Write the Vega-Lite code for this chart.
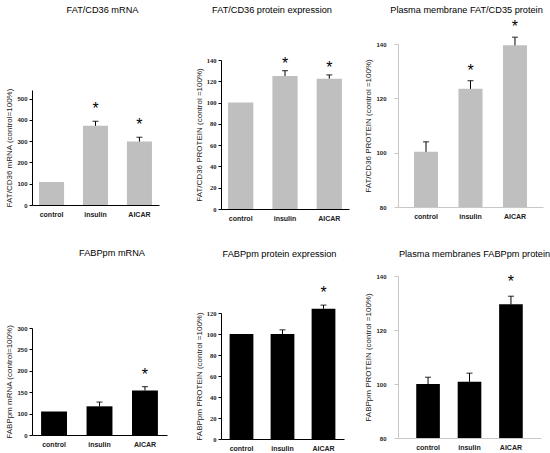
{
  "$schema": "https://vega.github.io/schema/vega-lite/v6.json",
  "padding": {"left": 5, "top": 4, "right": 0, "bottom": 0},
  "background": "white",
  "datasets": {
    "p1": [
      {"group": "control", "mean": 108, "upper": null, "sig": ""},
      {"group": "insulin", "mean": 372, "upper": 393, "sig": "*"},
      {"group": "AICAR", "mean": 298, "upper": 318, "sig": "*"}
    ],
    "p2": [
      {"group": "control", "mean": 100, "upper": null, "sig": ""},
      {"group": "insulin", "mean": 125, "upper": 130, "sig": "*"},
      {"group": "AICAR", "mean": 122.5, "upper": 126, "sig": "*"}
    ],
    "p3": [
      {"group": "control", "mean": 100.3, "upper": 104, "sig": ""},
      {"group": "insulin", "mean": 123.5, "upper": 126.5, "sig": "*"},
      {"group": "AICAR", "mean": 139.5, "upper": 142.5, "sig": "*"}
    ],
    "p4": [
      {"group": "control", "mean": 105, "upper": null, "sig": ""},
      {"group": "insulin", "mean": 117, "upper": 127, "sig": ""},
      {"group": "AICAR", "mean": 154, "upper": 163, "sig": "*"}
    ],
    "p5": [
      {"group": "control", "mean": 100, "upper": null, "sig": ""},
      {"group": "insulin", "mean": 100, "upper": 104, "sig": ""},
      {"group": "AICAR", "mean": 124, "upper": 127.5, "sig": "*"}
    ],
    "p6": [
      {"group": "control", "mean": 100, "upper": 102.5, "sig": ""},
      {"group": "insulin", "mean": 100.8, "upper": 104, "sig": ""},
      {"group": "AICAR", "mean": 129.5, "upper": 132.5, "sig": "*"}
    ]
  },
  "spacing": 15,
  "hconcat": [
    {
      "spacing": 30,
      "vconcat": [
        {
          "spacing": 71,
          "vconcat": [
            {"width": 127, "height": 12, "data": {"values": [{"t": "FAT/CD36 mRNA"}]}, "mark": {"type": "text", "fontSize": 9.2, "dx": 7, "font": "Liberation Sans", "color": "black"}, "encoding": {"text": {"field": "t"}}},
            {
              "width": 127, "height": 115,
              "data": {"name": "p1"},
              "encoding": {"x": {"field": "group", "type": "nominal", "sort": null, "scale": {"paddingInner": 0.43, "paddingOuter": 0.16}, "axis": {"title": null}}},
              "layer": [
                {"mark": {"type": "bar", "color": "#bfbfbf"}, "encoding": {"y": {"field": "mean", "type": "quantitative", "scale": {"domain": [0, 540], "nice": false}, "axis": {"values": [0, 100, 200, 300, 400, 500], "labelOverlap": false, "title": "FAT/CD36 mRNA (control=100%)"}}}},
                {"transform": [{"filter": "datum.upper != null"}], "mark": {"type": "rule", "color": "black"}, "encoding": {"y": {"field": "mean", "type": "quantitative", "scale": {"domain": [0, 540], "nice": false}, "axis": {"values": [0, 100, 200, 300, 400, 500], "labelOverlap": false, "title": "FAT/CD36 mRNA (control=100%)"}}, "y2": {"field": "upper"}}},
                {"transform": [{"filter": "datum.upper != null"}], "mark": {"type": "tick", "color": "black", "size": 6, "thickness": 1.2}, "encoding": {"y": {"field": "upper", "type": "quantitative", "scale": {"domain": [0, 540], "nice": false}, "axis": {"values": [0, 100, 200, 300, 400, 500], "labelOverlap": false, "title": "FAT/CD36 mRNA (control=100%)"}}}},
                {"transform": [{"filter": "datum.upper != null"}], "mark": {"type": "text", "dy": -12, "fontSize": 16, "font": "Liberation Sans"}, "encoding": {"y": {"field": "upper", "type": "quantitative", "scale": {"domain": [0, 540], "nice": false}, "axis": {"values": [0, 100, 200, 300, 400, 500], "labelOverlap": false, "title": "FAT/CD36 mRNA (control=100%)"}}, "text": {"field": "sig"}}}
              ]
            }
          ]
        },
        {
          "spacing": 65,
          "vconcat": [
            {"width": 148, "height": 12, "data": {"values": [{"t": "FABPpm mRNA"}]}, "mark": {"type": "text", "fontSize": 9.2, "dx": 6, "font": "Liberation Sans", "color": "black"}, "encoding": {"text": {"field": "t"}}},
            {
              "width": 135, "height": 107,
              "data": {"name": "p4"},
              "encoding": {"x": {"field": "group", "type": "nominal", "sort": null, "scale": {"paddingInner": 0.43, "paddingOuter": 0.2}, "axis": {"title": null}}},
              "layer": [
                {"mark": {"type": "bar", "color": "black"}, "encoding": {"y": {"field": "mean", "type": "quantitative", "scale": {"domain": [50, 300], "nice": false, "zero": false}, "axis": {"values": [50, 100, 150, 200, 250, 300], "labelOverlap": false, "labelExpr": "datum.value == 50 ? '0' : datum.label", "title": "FABPpm mRNA (control=100%)"}}, "y2": {"datum": 50}}},
                {"transform": [{"filter": "datum.upper != null"}], "mark": {"type": "rule", "color": "black"}, "encoding": {"y": {"field": "mean", "type": "quantitative", "scale": {"domain": [50, 300], "nice": false, "zero": false}, "axis": {"values": [50, 100, 150, 200, 250, 300], "labelOverlap": false, "labelExpr": "datum.value == 50 ? '0' : datum.label", "title": "FABPpm mRNA (control=100%)"}}, "y2": {"field": "upper"}}},
                {"transform": [{"filter": "datum.upper != null"}], "mark": {"type": "tick", "color": "black", "size": 6, "thickness": 1.2}, "encoding": {"y": {"field": "upper", "type": "quantitative", "scale": {"domain": [50, 300], "nice": false, "zero": false}, "axis": {"values": [50, 100, 150, 200, 250, 300], "labelOverlap": false, "labelExpr": "datum.value == 50 ? '0' : datum.label", "title": "FABPpm mRNA (control=100%)"}}}},
                {"transform": [{"filter": "datum.upper != null"}], "mark": {"type": "text", "dy": -12, "fontSize": 16, "font": "Liberation Sans"}, "encoding": {"y": {"field": "upper", "type": "quantitative", "scale": {"domain": [50, 300], "nice": false, "zero": false}, "axis": {"values": [50, 100, 150, 200, 250, 300], "labelOverlap": false, "labelExpr": "datum.value == 50 ? '0' : datum.label", "title": "FABPpm mRNA (control=100%)"}}, "text": {"field": "sig"}}}
              ]
            }
          ]
        }
      ]
    },
    {
      "spacing": 27,
      "vconcat": [
        {
          "spacing": 39,
          "vconcat": [
            {"width": 128, "height": 12, "data": {"values": [{"t": "FAT/CD36 protein expression"}]}, "mark": {"type": "text", "fontSize": 9.2, "dx": -13, "font": "Liberation Sans", "color": "black"}, "encoding": {"text": {"field": "t"}}},
            {
              "width": 128, "height": 149,
              "data": {"name": "p2"},
              "encoding": {"x": {"field": "group", "type": "nominal", "sort": null, "scale": {"paddingInner": 0.43, "paddingOuter": 0.16}, "axis": {"title": null}}},
              "layer": [
                {"mark": {"type": "bar", "color": "#bfbfbf"}, "encoding": {"y": {"field": "mean", "type": "quantitative", "scale": {"domain": [0, 140], "nice": false}, "axis": {"values": [0, 20, 40, 60, 80, 100, 120, 140], "labelOverlap": false, "labelFont": "Liberation Serif", "labelFontSize": 6.5, "title": "FAT/CD36 PROTEIN (control =100%)"}}}},
                {"transform": [{"filter": "datum.upper != null"}], "mark": {"type": "rule", "color": "black"}, "encoding": {"y": {"field": "mean", "type": "quantitative", "scale": {"domain": [0, 140], "nice": false}, "axis": {"values": [0, 20, 40, 60, 80, 100, 120, 140], "labelOverlap": false, "labelFont": "Liberation Serif", "labelFontSize": 6.5, "title": "FAT/CD36 PROTEIN (control =100%)"}}, "y2": {"field": "upper"}}},
                {"transform": [{"filter": "datum.upper != null"}], "mark": {"type": "tick", "color": "black", "size": 6, "thickness": 1.2}, "encoding": {"y": {"field": "upper", "type": "quantitative", "scale": {"domain": [0, 140], "nice": false}, "axis": {"values": [0, 20, 40, 60, 80, 100, 120, 140], "labelOverlap": false, "labelFont": "Liberation Serif", "labelFontSize": 6.5, "title": "FAT/CD36 PROTEIN (control =100%)"}}}},
                {"transform": [{"filter": "datum.upper != null"}], "mark": {"type": "text", "dy": -7, "fontSize": 16, "font": "Liberation Sans"}, "encoding": {"y": {"field": "upper", "type": "quantitative", "scale": {"domain": [0, 140], "nice": false}, "axis": {"values": [0, 20, 40, 60, 80, 100, 120, 140], "labelOverlap": false, "labelFont": "Liberation Serif", "labelFontSize": 6.5, "title": "FAT/CD36 PROTEIN (control =100%)"}}, "text": {"field": "sig"}}}
              ]
            }
          ]
        },
        {
          "spacing": 25,
          "vconcat": [
            {"width": 123, "height": 12, "data": {"values": [{"t": "FABPpm protein expression"}]}, "mark": {"type": "text", "fontSize": 9.2, "dx": -3, "font": "Liberation Sans", "color": "black"}, "encoding": {"text": {"field": "t"}}},
            {
              "width": 123, "height": 126,
              "data": {"name": "p5"},
              "encoding": {"x": {"field": "group", "type": "nominal", "sort": null, "scale": {"paddingInner": 0.42, "paddingOuter": 0.21}, "axis": {"title": null}}},
              "layer": [
                {"mark": {"type": "bar", "color": "black"}, "encoding": {"y": {"field": "mean", "type": "quantitative", "scale": {"domain": [0, 120], "nice": false}, "axis": {"values": [0, 20, 40, 60, 80, 100, 120], "labelOverlap": false, "labelFont": "Liberation Serif", "labelFontSize": 6.5, "title": "FABPpm PROTEIN (control =100%)"}}}},
                {"transform": [{"filter": "datum.upper != null"}], "mark": {"type": "rule", "color": "black"}, "encoding": {"y": {"field": "mean", "type": "quantitative", "scale": {"domain": [0, 120], "nice": false}, "axis": {"values": [0, 20, 40, 60, 80, 100, 120], "labelOverlap": false, "labelFont": "Liberation Serif", "labelFontSize": 6.5, "title": "FABPpm PROTEIN (control =100%)"}}, "y2": {"field": "upper"}}},
                {"transform": [{"filter": "datum.upper != null"}], "mark": {"type": "tick", "color": "black", "size": 6, "thickness": 1.2}, "encoding": {"y": {"field": "upper", "type": "quantitative", "scale": {"domain": [0, 120], "nice": false}, "axis": {"values": [0, 20, 40, 60, 80, 100, 120], "labelOverlap": false, "labelFont": "Liberation Serif", "labelFontSize": 6.5, "title": "FABPpm PROTEIN (control =100%)"}}}},
                {"transform": [{"filter": "datum.upper != null"}], "mark": {"type": "text", "dy": -12, "fontSize": 16, "font": "Liberation Sans"}, "encoding": {"y": {"field": "upper", "type": "quantitative", "scale": {"domain": [0, 120], "nice": false}, "axis": {"values": [0, 20, 40, 60, 80, 100, 120], "labelOverlap": false, "labelFont": "Liberation Serif", "labelFontSize": 6.5, "title": "FABPpm PROTEIN (control =100%)"}}, "text": {"field": "sig"}}}
              ]
            }
          ]
        }
      ]
    },
    {
      "spacing": 29,
      "vconcat": [
        {
          "spacing": 3,
          "vconcat": [
            {"width": 145, "height": 12, "data": {"values": [{"t": "Plasma membrane FAT/CD35 protein"}]}, "mark": {"type": "text", "fontSize": 9.2, "dx": -4, "font": "Liberation Sans", "color": "black"}, "encoding": {"text": {"field": "t"}}},
            {
              "width": 145, "height": 163,
              "data": {"name": "p3"},
              "encoding": {"x": {"field": "group", "type": "nominal", "sort": null, "scale": {"paddingInner": 0.46, "paddingOuter": 0.36}, "axis": {"title": null, "domainColor": "#c8c8c8"}}},
              "layer": [
                {"mark": {"type": "bar", "color": "#bfbfbf"}, "encoding": {"y": {"field": "mean", "type": "quantitative", "scale": {"domain": [80, 140], "nice": false, "zero": false}, "axis": {"values": [80, 100, 120, 140], "labelOverlap": false, "domainColor": "#c8c8c8", "tickColor": "#c8c8c8", "tickSize": 4, "labelPadding": 8, "title": "FAT/CD36 PROTEIN (control =100%)"}}, "y2": {"datum": 80}}},
                {"transform": [{"filter": "datum.upper != null"}], "mark": {"type": "rule", "color": "black"}, "encoding": {"y": {"field": "mean", "type": "quantitative", "scale": {"domain": [80, 140], "nice": false, "zero": false}, "axis": {"values": [80, 100, 120, 140], "labelOverlap": false, "domainColor": "#c8c8c8", "tickColor": "#c8c8c8", "tickSize": 4, "labelPadding": 8, "title": "FAT/CD36 PROTEIN (control =100%)"}}, "y2": {"field": "upper"}}},
                {"transform": [{"filter": "datum.upper != null"}], "mark": {"type": "tick", "color": "black", "size": 6, "thickness": 1.2}, "encoding": {"y": {"field": "upper", "type": "quantitative", "scale": {"domain": [80, 140], "nice": false, "zero": false}, "axis": {"values": [80, 100, 120, 140], "labelOverlap": false, "domainColor": "#c8c8c8", "tickColor": "#c8c8c8", "tickSize": 4, "labelPadding": 8, "title": "FAT/CD36 PROTEIN (control =100%)"}}}},
                {"transform": [{"filter": "datum.upper != null"}], "mark": {"type": "text", "dy": -10, "fontSize": 16, "font": "Liberation Sans"}, "encoding": {"y": {"field": "upper", "type": "quantitative", "scale": {"domain": [80, 140], "nice": false, "zero": false}, "axis": {"values": [80, 100, 120, 140], "labelOverlap": false, "domainColor": "#c8c8c8", "tickColor": "#c8c8c8", "tickSize": 4, "labelPadding": 8, "title": "FAT/CD36 PROTEIN (control =100%)"}}, "text": {"field": "sig"}}}
              ]
            }
          ]
        },
        {
          "spacing": 13,
          "vconcat": [
            {"width": 143, "height": 12, "data": {"values": [{"t": "Plasma membranes FABPpm protein"}]}, "mark": {"type": "text", "fontSize": 9.2, "dx": 5, "font": "Liberation Sans", "color": "black"}, "encoding": {"text": {"field": "t"}}},
            {
              "width": 143, "height": 162,
              "data": {"name": "p6"},
              "encoding": {"x": {"field": "group", "type": "nominal", "sort": null, "scale": {"paddingInner": 0.43, "paddingOuter": 0.44}, "axis": {"title": null, "domainColor": "#c8c8c8"}}},
              "layer": [
                {"mark": {"type": "bar", "color": "black"}, "encoding": {"y": {"field": "mean", "type": "quantitative", "scale": {"domain": [80, 140], "nice": false, "zero": false}, "axis": {"values": [80, 100, 120, 140], "labelOverlap": false, "domainColor": "#c8c8c8", "tickColor": "#c8c8c8", "tickSize": 4, "labelPadding": 8, "title": "FABPpm PROTEIN (control =100%)"}}, "y2": {"datum": 80}}},
                {"transform": [{"filter": "datum.upper != null"}], "mark": {"type": "rule", "color": "black"}, "encoding": {"y": {"field": "mean", "type": "quantitative", "scale": {"domain": [80, 140], "nice": false, "zero": false}, "axis": {"values": [80, 100, 120, 140], "labelOverlap": false, "domainColor": "#c8c8c8", "tickColor": "#c8c8c8", "tickSize": 4, "labelPadding": 8, "title": "FABPpm PROTEIN (control =100%)"}}, "y2": {"field": "upper"}}},
                {"transform": [{"filter": "datum.upper != null"}], "mark": {"type": "tick", "color": "black", "size": 6, "thickness": 1.2}, "encoding": {"y": {"field": "upper", "type": "quantitative", "scale": {"domain": [80, 140], "nice": false, "zero": false}, "axis": {"values": [80, 100, 120, 140], "labelOverlap": false, "domainColor": "#c8c8c8", "tickColor": "#c8c8c8", "tickSize": 4, "labelPadding": 8, "title": "FABPpm PROTEIN (control =100%)"}}}},
                {"transform": [{"filter": "datum.upper != null"}], "mark": {"type": "text", "dy": -14, "fontSize": 16, "font": "Liberation Sans"}, "encoding": {"y": {"field": "upper", "type": "quantitative", "scale": {"domain": [80, 140], "nice": false, "zero": false}, "axis": {"values": [80, 100, 120, 140], "labelOverlap": false, "domainColor": "#c8c8c8", "tickColor": "#c8c8c8", "tickSize": 4, "labelPadding": 8, "title": "FABPpm PROTEIN (control =100%)"}}, "text": {"field": "sig"}}}
              ]
            }
          ]
        }
      ]
    }
  ],
  "config": {
    "view": {"stroke": null},
    "axis": {"grid": false, "labelOverlap": false, "labelFont": "Liberation Sans", "labelFontWeight": "bold", "labelFontSize": 6, "labelColor": "#222", "titleFont": "Liberation Sans", "titleFontWeight": "normal", "titleFontSize": 8, "titleColor": "#222", "domainColor": "black", "tickColor": "black"},
    "axisX": {"ticks": false, "labelAngle": 0, "labelFontSize": 7, "labelPadding": 5},
    "axisY": {"tickSize": 3, "labelPadding": 2, "titlePadding": 3}
  }
}
